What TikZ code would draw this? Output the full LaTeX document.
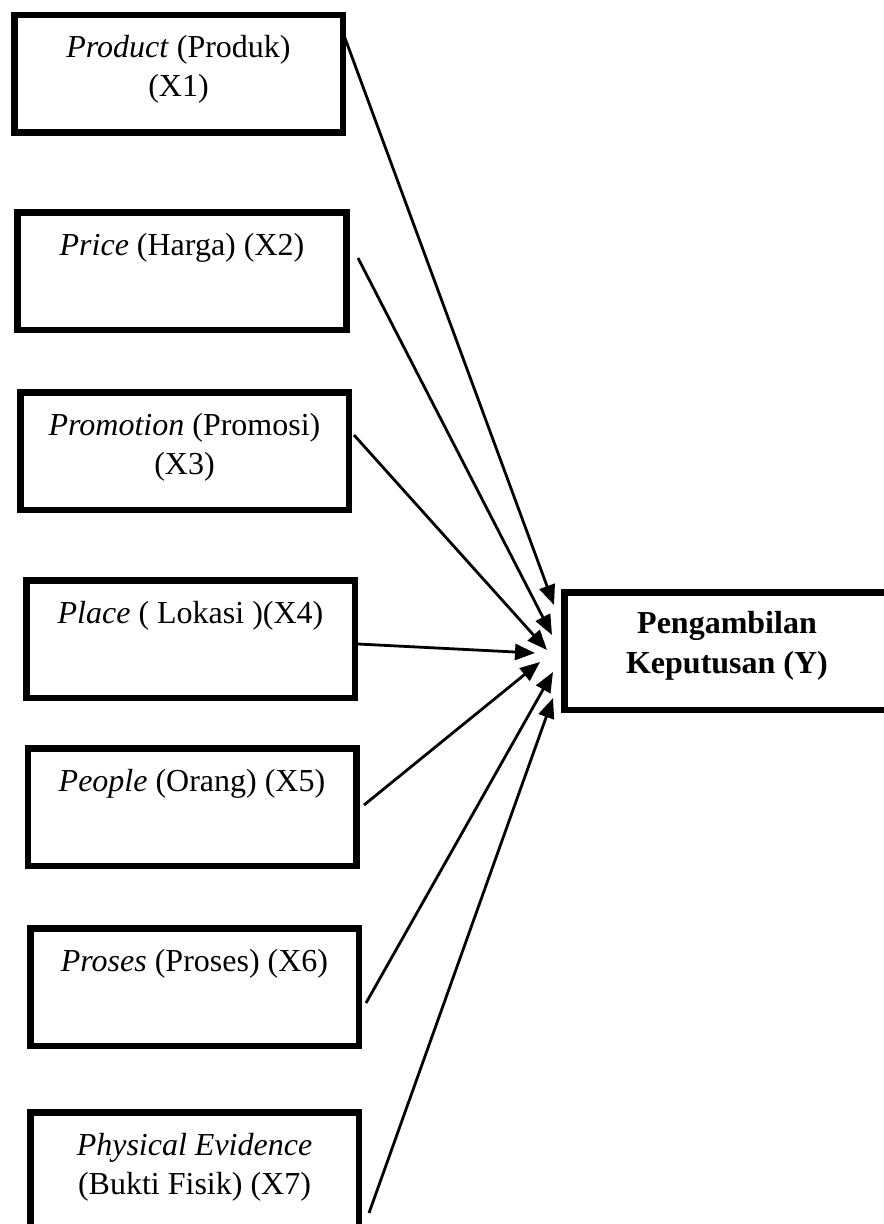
\documentclass[tikz,border=0pt]{standalone}
\usepackage{fontspec}
\setmainfont{Liberation Serif}
\usetikzlibrary{arrows.meta}
\newdimen\pxu \pxu=0.375pt
\begin{document}
\begin{tikzpicture}[x=0.375pt,y=-0.375pt,
  box/.style={draw, line width=6.5\pxu, inner sep=0pt, outer sep=0pt,
    minimum width=328.5\pxu, minimum height=117.5\pxu},
  ybox/.style={box, minimum width=325.5\pxu},
  lbl/.style={anchor=base, inner sep=0pt, font=\fontsize{12pt}{14.4pt}\selectfont},
  conn/.style={line width=1.05pt, -{Triangle[length=7.5pt,width=6pt]}}]
\useasboundingbox (0,0) rectangle (884,1224);
\clip (0,0) rectangle (884,1224);
% boxes
\node[box] (b1) at (178.5,73.5) {};
\node[box] (b2) at (182,271) {};
\node[box] (b3) at (184.5,451) {};
\node[box] (b4) at (190.5,639) {};
\node[box] (b5) at (192,807) {};
\node[box] (b6) at (194.5,987) {};
\node[box] (b7) at (194.5,1171) {};
\node[ybox] (Y) at (727,651) {};
% labels
\node[lbl] (t1a) at (178.5,57) {\textit{Product} (Produk)};
\node[lbl] (t1b) at (178.5,96) {(X1)};
\node[lbl] (t2a) at (182,255) {\textit{Price} (Harga) (X2)};
\node[lbl] (t3a) at (184.5,435) {\textit{Promotion} (Promosi)};
\node[lbl] (t3b) at (184.5,474) {(X3)};
\node[lbl] (t4a) at (190.5,623) {\textit{Place} ( Lokasi )(X4)};
\node[lbl] (t5a) at (192,791) {\textit{People} (Orang) (X5)};
\node[lbl] (t6a) at (194.5,971) {\textit{Proses} (Proses) (X6)};
\node[lbl] (t7a) at (194.5,1155) {\textit{Physical Evidence}};
\node[lbl] (t7b) at (194.5,1194) {(Bukti Fisik) (X7)};
\node[lbl, font=\fontsize{12pt}{14.4pt}\selectfont\bfseries] (tya) at (727,633) {Pengambilan};
\node[lbl, font=\fontsize{12pt}{14.4pt}\selectfont\bfseries] (tyb) at (727,673) {Keputusan (Y)};
% connector ends
\coordinate (s1) at (345,38);
\coordinate (s2) at (358,258);
\coordinate (s3) at (354,435);
\coordinate (s4) at (358,644);
\coordinate (s5) at (364,805);
\coordinate (s6) at (366,1003);
\coordinate (s7) at (369,1213);
\coordinate (e1) at (554,605);
\coordinate (e2) at (552,635);
\coordinate (e3) at (547,650);
\coordinate (e4) at (535,653);
\coordinate (e5) at (540,662);
\coordinate (e6) at (553,672);
\coordinate (e7) at (553,698);
\foreach \i in {1,...,7} {\draw[conn] (s\i) -- (e\i);}
\end{tikzpicture}
\end{document}
